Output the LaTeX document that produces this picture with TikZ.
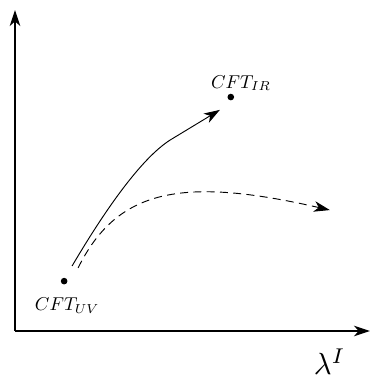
\documentclass[tikz,border=0pt]{standalone}
\usepackage{amsmath}
\usepackage{tikz}
\usetikzlibrary{arrows.meta,positioning}

\begin{document}
\begin{tikzpicture}[
    axis/.style={-{Stealth[length=12pt,width=8pt,inset=3.5pt]}, line width=0.8pt},
    flow/.style={-{Stealth[length=12pt,width=8pt,inset=3.5pt]}, line width=0.7pt},
    fixpt/.style={circle, fill, inner sep=0pt, minimum size=5pt},
    tag/.style={scale=1.4, inner sep=1pt}
]
\useasboundingbox (-0.397,-1.323) rectangle (9.42,8.758);

\coordinate (o) at (0,0);
\coordinate (xend) at (9.39,0);
\coordinate (yend) at (0,8.49);
\draw[axis] (o) -- (xend);
\draw[axis] (o) -- (yend);
\node[scale=2.3] (lam) at (8.33,-0.82) {$\lambda^I$};

\node[fixpt] (uv) at (1.30,1.32) {};
\node[fixpt] (ir) at (5.71,6.19) {};
\node[tag] (uvlab) at (1.38,0.68) {$CFT_{UV}$};
\node[tag] (irlab) at (5.98,6.56) {$CFT_{IR}$};

% flows out of the UV point
\coordinate (s1) at (1.51,1.72);
\coordinate (e1) at (5.42,5.85);
\coordinate (s2) at (1.67,1.67);
\coordinate (e2) at (8.33,3.20);
\draw[flow] (s1) .. controls (2.5,3.4) and (3.4,4.6) .. (4.1,5.05) -- (e1);
\draw[flow, dashed, dash pattern=on 6pt off 4pt] (s2) .. controls (2.7,3.75) and (4.4,4.1) .. (e2);
\end{tikzpicture}
\end{document}
